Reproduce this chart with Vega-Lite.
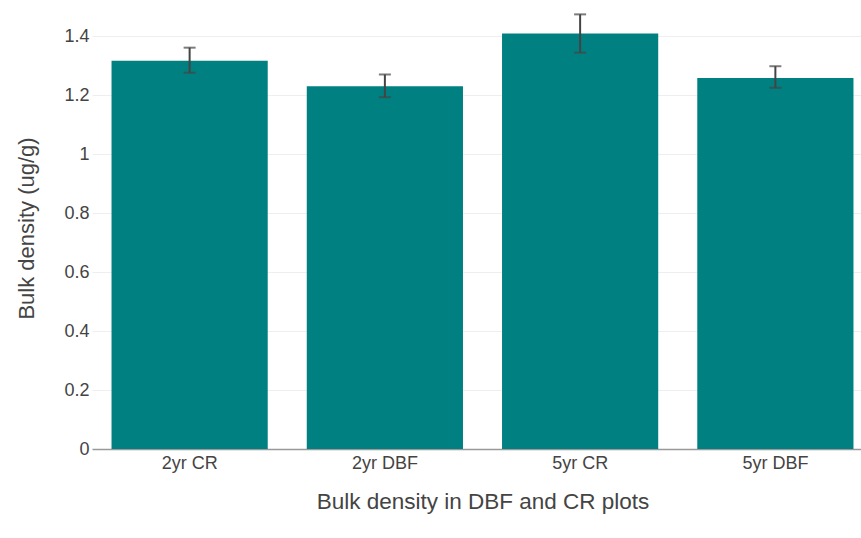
{
  "$schema": "https://vega.github.io/schema/vega-lite/v6.json",
  "autosize": "none",
  "width": 781,
  "height": 442,
  "padding": {"left": 92, "top": 7, "right": 0, "bottom": 89},
  "background": "white",
  "config": {
    "font": "Liberation Sans",
    "view": {"stroke": null}
  },
  "data": {
    "values": [
      {"plot": "2yr CR", "density": 1.318, "lo": 1.277, "hi": 1.362},
      {"plot": "2yr DBF", "density": 1.231, "lo": 1.194, "hi": 1.271},
      {"plot": "5yr CR", "density": 1.410, "lo": 1.345, "hi": 1.475},
      {"plot": "5yr DBF", "density": 1.259, "lo": 1.226, "hi": 1.299}
    ]
  },
  "encoding": {
    "x": {
      "field": "plot",
      "type": "nominal",
      "sort": null,
      "scale": {"paddingInner": 0.2, "paddingOuter": 0.1},
      "axis": {
        "title": "Bulk density in DBF and CR plots",
        "labelAngle": 0,
        "labelFontSize": 18,
        "labelColor": "#444",
        "labelPadding": 5,
        "ticks": false,
        "domainColor": "#999",
        "domainWidth": 1.5,
        "titleFontSize": 22.5,
        "titleFontWeight": "normal",
        "titleColor": "#444",
        "titlePadding": 18
      }
    }
  },
  "layer": [
    {
      "mark": {"type": "bar", "color": "#008080"},
      "encoding": {
        "y": {
          "field": "density",
          "type": "quantitative",
          "scale": {"domain": [0, 1.5], "nice": false},
          "axis": {
            "title": "Bulk density (ug/g)",
            "values": [0, 0.2, 0.4, 0.6, 0.8, 1, 1.2, 1.4],
            "format": "~g",
            "labelFontSize": 18,
            "labelColor": "#444",
            "labelPadding": 3,
            "ticks": false,
            "domain": false,
            "gridColor": "#eeeeee",
            "titleFontSize": 22,
            "titleFontWeight": "normal",
            "titleColor": "#444",
            "titlePadding": 25
          }
        }
      }
    },
    {
      "mark": {"type": "rule", "color": "#444", "strokeWidth": 2},
      "encoding": {
        "y": {"field": "lo", "type": "quantitative"},
        "y2": {"field": "hi"}
      }
    },
    {
      "mark": {"type": "tick", "color": "#444", "thickness": 2, "size": 12},
      "encoding": {"y": {"field": "lo", "type": "quantitative"}}
    },
    {
      "mark": {"type": "tick", "color": "#444", "thickness": 2, "size": 12},
      "encoding": {"y": {"field": "hi", "type": "quantitative"}}
    }
  ]
}
